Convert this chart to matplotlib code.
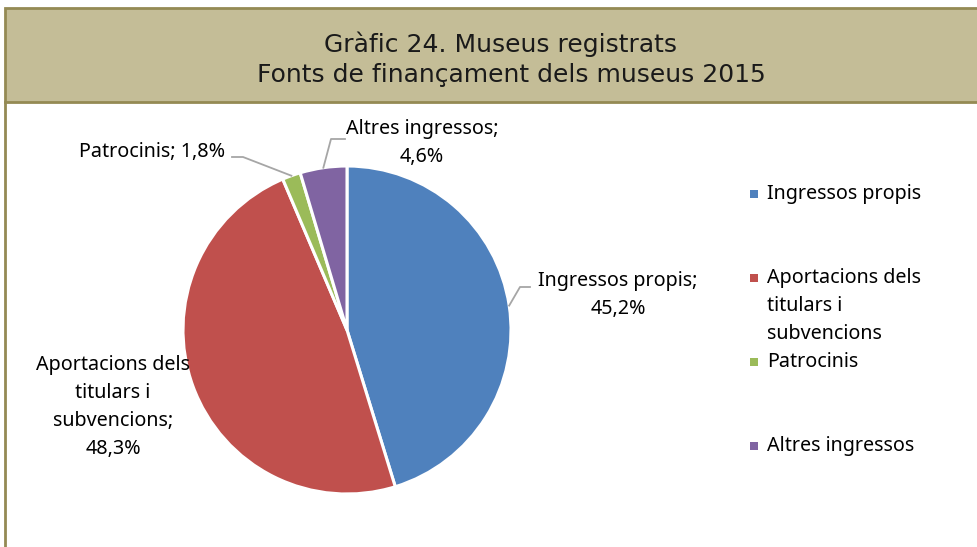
import matplotlib

matplotlib.use("Agg")

import matplotlib.pyplot as plt  # noqa: E402
from matplotlib.patches import Rectangle  # noqa: E402
import numpy as np  # noqa: E402

# Dades del gràfic
categories = ["Ingressos propis", "Aportacions dels titulars i subvencions", "Patrocinis", "Altres ingressos"]
values = [45.2, 48.3, 1.8, 4.6]
slice_labels = [
    "Ingressos propis;\n45,2%",
    "Aportacions dels\ntitulars i\nsubvencions;\n48,3%",
    "Patrocinis; 1,8%",
    "Altres ingressos;\n4,6%",
]
legend_labels = ["Ingressos propis", "Aportacions dels\ntitulars i\nsubvencions", "Patrocinis", "Altres ingressos"]
colors = ["#4f81bd", "#c0504d", "#9bbb59", "#8064a2"]

W, H = 978, 547
FONT = "Noto Sans"
FS = 14.2
LS = 1.55
BORDER = "#948a54"
BANNER = "#c4bd97"
LEADER = "#a6a6a6"

fig = plt.figure(figsize=(W / 100, H / 100), dpi=100)
fig.patch.set_facecolor("white")

# Capçalera amb fons beix
fig.patches.append(Rectangle((5 / W, 1 - 102 / H), 1, 94 / H, transform=fig.transFigure,
                             facecolor=BANNER, edgecolor=BORDER, linewidth=2))
fig.lines.append(plt.Line2D([5 / W, 5 / W], [0, 1 - 102 / H], transform=fig.transFigure,
                            color=BORDER, linewidth=2))
fig.text(501 / W, 1 - 44 / H, "Gràfic 24. Museus registrats", ha="center", va="center",
         fontsize=18, family="DejaVu Sans", color="#1a1a1a")
fig.text(511 / W, 1 - 75 / H, "Fonts de finançament dels museus 2015", ha="center", va="center",
         fontsize=18, family="DejaVu Sans", color="#1a1a1a")

# Pastís: centre (347, 330) px, radi 164 px
cx, cy, r = 347, 330, 164
ax = fig.add_axes([(cx - r) / W, (H - cy - r) / H, 2 * r / W, 2 * r / H])
wedges, _ = ax.pie(values, colors=colors, startangle=90, counterclock=False,
                   wedgeprops={"edgecolor": "white", "linewidth": 2.2})
ax.set_xlim(-1, 1)
ax.set_ylim(-1, 1)
ax.set_aspect("equal")
ax.axis("off")


def px(x, y):
    return ((x - cx) / r, (cy - y) / r)


# Etiquetes de dades (posicions en píxels) i línies guia
label_pos = [(618, 295), (113, 407), (152, 152), (422, 143)]
leader_knee = [[(520, 287), (530, 287)], None, [(243, 157), (232, 157)], [(331, 139), (345, 139)]]
for wedge, text, pos, knee in zip(wedges, slice_labels, label_pos, leader_knee):
    ax.text(*px(*pos), text, ha="center", va="center", fontsize=FS, family=FONT,
            linespacing=LS, color="black")
    if knee is None:
        continue
    mid = np.deg2rad((wedge.theta1 + wedge.theta2) / 2)
    xs = [np.cos(mid)] + [px(*k)[0] for k in knee]
    ys = [np.sin(mid)] + [px(*k)[1] for k in knee]
    ax.plot(xs, ys, color=LEADER, linewidth=1.3, clip_on=False)

# Llegenda manual (entrades espaiades com a l'original)
for i, (wedge, label) in enumerate(zip(wedges, legend_labels)):
    y = 194 + 84 * i
    fig.patches.append(Rectangle((750 / W, 1 - (y + 4) / H), 8 / W, 8 / H, transform=fig.transFigure,
                                 facecolor=wedge.get_facecolor(), edgecolor="none"))
    fig.text(767 / W, 1 - (y - 10) / H, label, ha="left", va="top", fontsize=FS, family=FONT,
             linespacing=LS, color="black")

fig.savefig("out.png", dpi=100)
